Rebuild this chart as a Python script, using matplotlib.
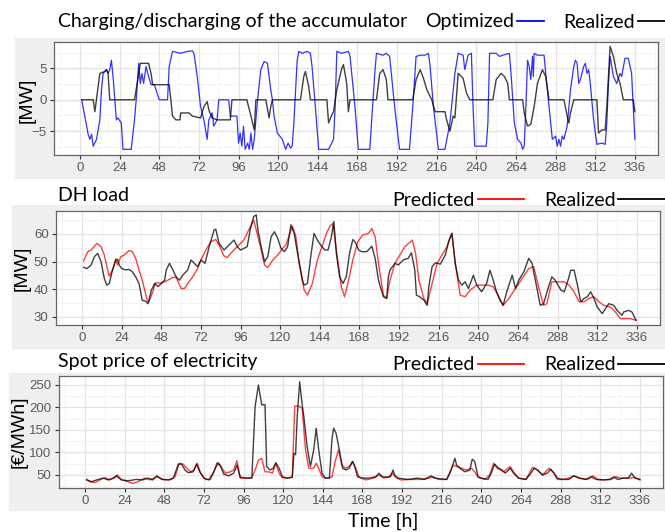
import numpy as np
import matplotlib
matplotlib.use('Agg')
import matplotlib.pyplot as plt
from matplotlib.lines import Line2D
from matplotlib.patches import Rectangle

# accumulator charge/discharge [MW], (hour, value)
acc_optimized = [(1,0),(5,-5.6),(6,-6.3),(7,-5.5),(8,-7.4),(10,-6.3),(12,-3.2),(13,1.6),(14,4.2),(16,4.8),(17,4.2),
    (18,4.8),(19,6.3),(20,3.7),(22,-3.2),(23,-2.9),(25,-3.7),(26,-7.9),(31,-7.9),(33,-3.2),(34.5,1.6),(35.5,5.8),
    (36.5,2.6),(37.5,4.2),(38.5,2.6),(40,5.3),(41,4.2),(43,2.4),(45,2.4),(48,0),(53,0),(54,5.3),(56,7.7),(61,7.4),
    (65,7.7),(68,7.8),(69,7.4),(71,3.7),(73,-1.1),(75,-3.2),(77,-6.3),(78,-3.2),(80,-2.1),(81,-4.2),(83,-3.2),(84,0),
    (90,0),(91,-2.6),(95,-2.6),(96,-6.9),(97,-5.3),(98,-7.4),(99,-4.2),(100,-7.9),(101.5,-6.9),(102.5,-7.9),
    (103.5,-5.3),(104.5,-7.9),(105.5,-6.3),(107.5,0),(109.5,4.8),(111.5,6.1),(113.5,5.8),(115.5,1.6),(116.5,0),
    (117.5,-2.6),(119.5,-5.3),(122.5,-6.3),(124.5,-7.9),(126,-6.9),(127.5,-7.7),(128.5,-7.4),(129.5,-3.7),
    (131.5,6.3),(132.5,7.7),(134.5,7.4),(137.5,7.7),(139.5,7.4),(140.5,5.3),(142.5,-1.1),(144.5,-7.9),(150.5,-7.9),
    (151.5,-7.4),(153.5,-6.3),(154.5,-1.1),(155.5,7.7),(158.5,7.4),(162.5,7.7),(163.5,6.9),(164.5,4.2),(166.5,-1.1),
    (168.5,-7.9),(175.5,-7.9),(176.5,-3.7),(178.5,4.2),(179.5,7.4),(183.5,7.1),(185.5,7.4),(187.5,6.9),(188.5,4.2),
    (190.5,-1.1),(193.5,-7.9),(199.5,-7.9),(201.5,-1.1),(203.5,6.9),(206,7.1),(209,7.1),(211,7.4),(212,5.3),
    (214,-1.1),(217,-7.9),(221,-7.9),(224,-3.7),(227,4.2),(229,7.4),(232,7.1),(233,4.8),(235,7.1),(237,7.4),
    (238,-1.1),(239,-7.4),(246,-7.4),(247,-3.7),(248,7.4),(252,7.4),(254,6.9),(256,7.1),(260,7.4),(261,4.2),
    (263,-3.7),(265,-6.3),(267,-6.9),(268,-7.9),(269,-7.4),(270,-1.1),(271,6.3),(272,5.3),(273,3.2),(274,6.9),
    (274.5,3.7),(275,7.4),(277,7.1),(281,7.1),(282,4.2),(284,-1.1),(286,-6.3),(288,-5.8),(289,-7.4),(290,-6.3),
    (291,-7.4),(292,-5.8),(293,-6.3),(295,-4.2),(297,1.6),(299,5.3),(300,6.3),(301,5.8),(302,2.6),(303,3.2),
    (305,5.3),(306,5.8),(307,4.2),(308,4.8),(309,2.6),(311,-3.2),(313,-7.1),(316,-6.9),(318,-7.1),(319,-3.7),
    (320,2.6),(321,6.9),(323,3.7),(325,2.6),(327,4.2),(328,3.7),(330,6.6),(332,6.6),(334,4.2),(335,-1.1),(336,-6.3)]
acc_realized = [(1,0),(8,0),(9,-1.9),(12,4.2),(15,4.5),(16,4.8),(17,4.2),(18,0),(33,0),(36.5,5.8),(41.5,5.8),
    (43,4.2),(44,2.4),(54,2.4),(55,0),(56,-2.6),(58,-3.2),(60.5,-3.2),(61,-2.1),(66,-2.1),(68,-2.6),(73,-2.9),
    (75,-1.1),(77,-0.3),(78,-1.6),(80,-2.9),(83,-3.2),(91,-3.2),(92,0),(101,0),(103.5,-2.6),(105.5,-4.8),(106.5,0),
    (112.5,0),(114.5,-2.9),(115.5,-1.1),(116.5,0),(133.5,0),(135.5,3.7),(136.5,4.5),(138.5,2.1),(139.5,0),
    (149.5,0),(150.5,-3.7),(152.5,-2.4),(153.5,-1.9),(155.5,1.6),(158.5,5.0),(159.5,5.6),(161.5,2.6),(162.5,-1.9),
    (163.5,0),(179.5,0),(181.5,4.2),(183.5,4.8),(185.5,3.2),(186.5,0),(201.5,0),(203.5,3.2),(206,4.8),(208,3.4),
    (210,1.6),(213,0),(215,-1.9),(221,-1.9),(222,-3.2),(224,-5.0),(226,-2.6),(227,-2.9),(229,4.2),(231,3.7),
    (232,3.4),(234,1.1),(236,0),(250,0),(252,3.2),(255,4.2),(257,3.7),(259,2.6),(260,0),(268,0),(269,-2.1),
    (271,-4.2),(273,-3.9),(275,-1.1),(277,2.6),(280,4.8),(282,3.7),(284,0),(293,0),(295,-2.6),(296,-3.7),
    (297,-2.1),(299,0),(313,0),(314,-5.3),(316,-4.8),(318,-4.8),(319,-1.1),(321,8.5),(323,6.9),(325,4.2),
    (327,2.6),(329,0),(335,0),(336,-1.9)]

# district heating load [MW]
dh_predicted = [(1,50.3),(3.5,53.6),(5.5,54.2),(7.5,55.6),(9,56.6),(11.5,55.4),(13.5,52.4),(15.5,47),(16.5,44.8),
    (18.5,47),(20.5,50.8),(21.5,48.8),(23.5,51.8),(25.5,52.4),(28.5,54),(30.5,53.6),(32.5,51.2),(34.5,47),
    (36.5,43.3),(39.5,36),(40.5,35.5),(42.5,38.5),(44.5,42.3),(48,42.3),(50,42.7),(52,43.3),(55,44.3),(57,44.3),
    (60,40.3),(62,40.3),(64,42.1),(67,44.5),(70,47.5),(72,50.6),(75,54.2),(78,57.2),(81,58),(83,56),(86,52),
    (88,51.5),(90,53),(92,54.2),(95,56),(98,57.8),(101,61.5),(104,65),(106.5,59),(108.5,54.2),(110.5,48.8),
    (112.5,47.9),(115.5,50.6),(118.5,52.4),(121.5,54.8),(123.5,56),(125.5,59.6),(127.5,62.7),(129.5,59),
    (131.5,49.4),(134.5,39.7),(136.5,37.9),(139.5,42.1),(142.5,50.6),(146,56.6),(148,60.2),(150,62.7),(152,63.9),
    (154,54.2),(157,40.9),(159,37.3),(161,42.1),(164,50.6),(167,57.2),(170,59.6),(173.5,60.2),(175.5,62),
    (177.5,59),(179.5,49.4),(182.5,37.9),(184.5,36.7),(186.5,43.3),(189.5,49.4),(192.5,52.4),(195.5,55.4),
    (200,57.8),(202,53),(204,43.3),(207,36.7),(209,34.8),(211,39.7),(213,44.5),(215,49.4),(218,52.4),(221,55.4),
    (223,59),(224,60.2),(226,49.4),(229,37.9),(232,37.3),(235,39.7),(239,41.5),(243,41.5),(246,41.5),(249,40.9),
    (252,37.9),(255,34.2),(258.5,36.7),(262.5,40.3),(266.5,43.9),(270.5,47.5),(273.5,48.2),(276.5,40.9),
    (279.5,34.2),(281.5,34.8),(284.5,42.7),(287.5,42.7),(292,42.7),(295,41.5),(298,39.1),(301,35.5),(304,35.5),
    (307,36.7),(310,37.3),(313,35.5),(316,34.2),(320,33.6),(323,31.8),(326,29.4),(328,29.4),(332,29.4),(335.5,28.8)]
dh_realized = [(1,47.9),(3,47.5),(5.5,48.8),(7.5,51.8),(9.5,53),(11.5,50),(13.5,43.9),(15,41.5),(16.5,42.1),
    (18.5,47),(20.5,50.8),(21.5,50.8),(22.5,48.8),(24,47.5),(26.5,47),(28.5,47.2),(30.5,46.3),(32.5,44.5),
    (34.5,42.1),(36.5,36),(38.5,35.7),(40,34.8),(42,39.7),(44,42.1),(46,41),(47,41.5),(50,43.3),(51,47),(53,49.4),
    (55,47),(57,44.5),(59,43.3),(61,45.1),(64,47),(66,50.6),(68,49.4),(70,48.2),(72,50.6),(74.5,49.4),(77,55.4),
    (80,61.5),(81,61.7),(83,56.6),(86,54.2),(88,55.4),(90,56.6),(92,57.8),(94,55.4),(96,54.2),(100,55.4),(102,62),
    (104,66.3),(105.5,66.9),(106.5,61.5),(108.5,55.4),(110.5,50),(112.5,51.8),(114.5,59),(116.5,60.8),(118.5,58.4),
    (120.5,54.8),(122.5,53.6),(124.5,55.4),(126.5,63.3),(128.5,60.2),(130.5,53),(133.5,43.3),(134.5,41.5),
    (136.5,42.1),(138.5,51.8),(140.5,60.2),(142.5,57.8),(144.5,56),(147,54.2),(149,54.2),(151,59),(152.5,64.5),
    (154,53),(156,44.5),(158,42.1),(160,44.5),(162,53),(164,58),(165.5,57),(167.5,54.2),(169.5,53.6),(172.5,53.6),
    (175.5,55.6),(177.5,51.2),(179.5,43.3),(182.5,37.3),(184.5,36.7),(185.5,44.5),(186.5,47),(189.5,49.4),
    (191.5,48.8),(194.5,50.6),(197.5,51.2),(199.5,53.2),(201.5,47),(202.5,37.9),(204.5,37.3),(207,36.1),(209,34.2),
    (210,40.9),(212,48.2),(214,49.6),(217,49.1),(220,52.4),(222,57.2),(224,60.2),(226,49.4),(228,43.3),(230,41.5),
    (232,42.7),(234,40.3),(237,45.1),(239,41.5),(242,39.1),(245,42.1),(247,46.9),(249,43.3),(251,39.1),(253,36.1),
    (255,34.2),(257.5,39.7),(260.5,45.1),(262.5,40.3),(264.5,43.3),(267.5,46.3),(270.5,51.2),(272.5,49.4),
    (274.5,43.3),(277.5,34.2),(279.5,34.8),(282.5,40.9),(284.5,44.5),(286.5,43.3),(290,39.7),(292,39.1),(294,42.7),
    (296,46.9),(298,46.9),(300,41.5),(302,35.5),(304,36.7),(306,37.3),(308,39.1),(310,36.7),(312,33.6),(315,31.2),
    (317,33),(319,34.8),(322,34.2),(324,32.4),(327,30.6),(328,31.8),(331,32.4),(333,31.8),(335.5,28.8)]

# spot price [EUR/MWh]
price_predicted = [(1,40),(3,35),(6,33),(9,39),(12,44),(15,39),(18,44),(19.5,50),(22,40),(26,35),(29,31),(32,35),
    (36,43),(39.5,39),(43.5,46),(47.5,40),(51.5,39),(54.5,46),(57,76),(59.5,74),(61.5,65),(64,57),(66,61),(68,76),
    (70,54),(73,40),(76,40),(79,65),(81,77),(83,65),(85,54),(88,57),(90,61),(92,82),(94,43),(98,43),(101,44),
    (103,61),(105,83),(107,87),(109,57),(111,57),(113.5,54),(115.5,76),(117.5,54),(119.5,44),(122.5,43),(125.5,45),
    (127,203),(129.5,203),(131.5,198),(133.5,106),(135.5,65),(138.5,65),(140,76),(141.5,65),(143.5,46),(145.5,43),
    (149.5,45),(151.5,80),(153.5,106),(155.5,72),(157.5,65),(160,69),(162,80),(164,65),(166,45),(170,39),(175,43),
    (178,50),(181,43),(184,46),(186,54),(188,45),(191,39),(197.5,40),(203.5,40),(208.5,43),(211,46),(214,40),
    (219,40),(221,57),(223,72),(225,69),(228,65),(231,61),(234,65),(236,57),(238,45),(242,40),(245,50),(247.5,76),
    (249.5,65),(251.5,61),(253.5,57),(257.5,69),(259.5,57),(262.5,43),(267,40),(271,67),(274,61),(277,50),(281,65),
    (284,54),(286,40),(289,40),(293,43),(296,48),(300,43),(304.5,40),(307.5,48),(310.5,40),(314.5,39),(318.5,40),
    (322,46),(324,43),(330,43),(333,45),(336,39)]
price_realized = [(1,39),(4,35),(7,39),(11,43),(14,39),(17,43),(19,48),(22,39),(26,37),(31,40),(35,39),(38,43),
    (41,39),(43.5,48),(46.5,40),(50.5,39),(53.5,43),(56.5,74),(58.5,74),(60.5,61),(62.5,55),(65.5,57),(67.5,74),
    (69.5,57),(72,43),(75,39),(78,57),(80,77),(82,70),(84,52),(87,48),(90,54),(92,72),(94,45),(98,43),(101,43),
    (103,202),(105,250),(107,206),(109,206),(110,69),(112,61),(114,65),(115.5,77),(117.5,65),(119.5,46),(122.5,43),
    (125.5,45),(126.5,98),(127.5,95),(128.5,180),(130,257),(131.5,206),(132.5,180),(134.5,113),(136.5,69),
    (138.5,106),(140,154),(141.5,106),(143.5,54),(145.5,43),(148,43),(149.5,128),(150.5,154),(152,143),(154,106),
    (156,65),(158,61),(160,65),(162,80),(163,72),(165,46),(168,43),(172,43),(176,46),(178,54),(180,46),(183,45),
    (185,46),(186.5,61),(187.5,50),(189.5,43),(195.5,40),(201.5,43),(205.5,40),(209.5,48),(211.5,43),(219,40),
    (221,54),(224,87),(225,72),(227,65),(230,57),(233,61),(234.5,85),(236,80),(238,46),(240,43),(244,40),(246,54),
    (248,74),(250.5,65),(252.5,61),(254.5,54),(257.5,65),(259.5,54),(262.5,43),(267,40),(270,54),(272,65),(274,61),
    (277,50),(280,54),(282,63),(284,54),(286,43),(289,40),(293,40),(296,48),(299,43),(303,40),(306.5,46),
    (309.5,40),(313.5,39),(317.5,40),(320.5,46),(322.5,40),(326,43),(329,43),(331,54),(333,43),(336,40)]

x_ticks = list(range(0, 337, 24))

W, H = 665, 532
fig = plt.figure(figsize=(W / 100, H / 100), dpi=100)
TXT = 'Lato'
TICKF = 'Liberation Sans'
FS = 14


def box(l, t, r, b):
    return [l / W, 1 - b / H, (r - l) / W, (b - t) / H]


def bg(l, t, r, b):
    fig.patches.append(Rectangle((l / W, 1 - b / H), (r - l) / W, (b - t) / H,
                                 transform=fig.transFigure, color='#EFEFEF', zorder=-10))


def style(ax, ylim, yticks, yminor):
    ax.set_xlim(-16, 350)
    ax.set_ylim(*ylim)
    ax.set_xticks(x_ticks)
    ax.set_xticks([t + 12 for t in range(-24, 337, 24)], minor=True)
    ax.set_yticks(yticks)
    ax.set_yticks(yminor, minor=True)
    ax.grid(True, which='major', color='#E3E3E3', lw=0.9)
    ax.grid(True, which='minor', color='#F0F0F0', lw=0.5)
    ax.set_axisbelow(True)
    ax.tick_params(which='major', length=3, color='#333333', labelcolor='#5A5A5A', labelsize=9.5, pad=2)
    ax.tick_params(which='minor', length=0)
    for lb in ax.get_xticklabels() + ax.get_yticklabels():
        lb.set_fontfamily(TICKF)
    for s in ax.spines.values():
        s.set_color('#666666')
        s.set_linewidth(0.9)


def legend(ax, labels, colors, y, hl):
    hs = [Line2D([], [], color=c, lw=1.3) for c in colors]
    ax.legend(hs, labels, ncol=2, markerfirst=False, frameon=False, loc='center right',
              bbox_to_anchor=(1.0, 1 - y / H), bbox_transform=fig.transFigure,
              prop={'family': TXT, 'size': FS}, handlelength=hl, handletextpad=0.15,
              columnspacing=1.0, borderaxespad=0, borderpad=0)


def draw(ax, data, color, alpha, lw):
    h, v = zip(*data)
    ax.plot(h, v, color=color, alpha=alpha, lw=lw)


bg(15, 38, 665, 178)
bg(12, 205, 665, 348)
bg(9, 373, 665, 510)

# panel 1
ax1 = fig.add_axes(box(53.6, 42, 658, 155))
draw(ax1, acc_optimized, '#0000FF', 0.8, 0.9)
draw(ax1, acc_realized, '#000000', 0.75, 1.0)
style(ax1, (-8.8, 9.2), [-5, 0, 5], [-7.5, -2.5, 2.5, 7.5])
fig.text(58 / W, 1 - 22 / H, 'Charging/discharging of the accumulator', family=TXT, size=FS, va='center')
legend(ax1, ['Optimized', 'Realized'], ['#0000FF', '#000000'], 22, 1.4)
fig.text(27 / W, 1 - 100 / H, '[MW]', family=TICKF, size=14, rotation=90, ha='center', va='center')

# panel 2
ax2 = fig.add_axes(box(55.6, 211, 660, 325))
draw(ax2, dh_predicted, '#FF0000', 0.75, 1.0)
draw(ax2, dh_realized, '#000000', 0.75, 1.0)
style(ax2, (27.1, 68.3), [30, 40, 50, 60], [35, 45, 55, 65])
fig.text(58 / W, 1 - 195 / H, 'DH load', family=TXT, size=FS, va='center')
legend(ax2, ['Predicted', 'Realized'], ['#FF0000', '#000000'], 200, 2.4)
fig.text(22 / W, 1 - 268 / H, '[MW]', family=TICKF, size=14, rotation=90, ha='center', va='center')

# panel 3
ax3 = fig.add_axes(box(58.6, 376, 663, 488))
draw(ax3, price_predicted, '#FF0000', 0.75, 1.0)
draw(ax3, price_realized, '#000000', 0.75, 1.0)
style(ax3, (21, 270), [50, 100, 150, 200, 250], [25, 75, 125, 175, 225])
fig.text(58 / W, 1 - 362 / H, 'Spot price of electricity', family=TXT, size=FS, va='center')
legend(ax3, ['Predicted', 'Realized'], ['#FF0000', '#000000'], 365, 2.4)
fig.text(19 / W, 1 - 432 / H, '[€/MWh]', family=TICKF, size=14, rotation=90, ha='center', va='center')
fig.text(383 / W, 1 - 521 / H, 'Time [h]', family=TXT, size=FS, ha='center', va='center')

fig.savefig('out.png', dpi=100)
